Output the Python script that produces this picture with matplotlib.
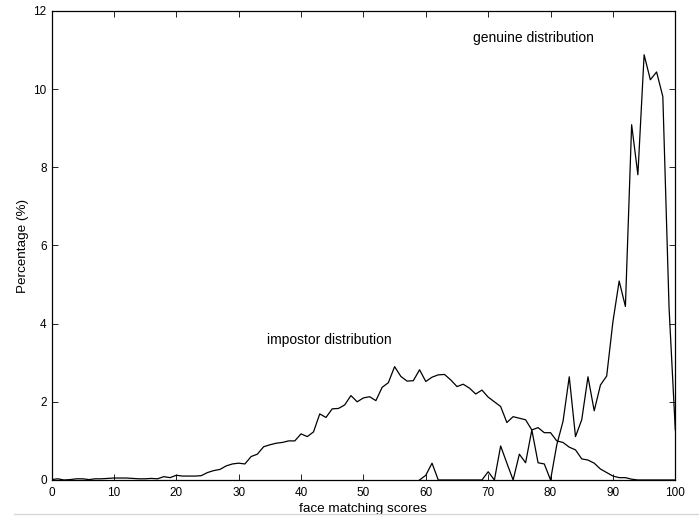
import matplotlib
matplotlib.use("Agg")
import matplotlib.pyplot as plt
from matplotlib.lines import Line2D

plt.rcParams["font.family"] = ["Liberation Sans", "DejaVu Sans"]

# impostor score histogram, one value per integer score 0..100 (percent)
impostor_scores = list(range(0, 101))
impostor_pct = [
    0.01, 0.03, 0.00, 0.01, 0.03, 0.03, 0.01, 0.03, 0.03, 0.04,
    0.05, 0.05, 0.05, 0.04, 0.03, 0.03, 0.04, 0.03, 0.085, 0.06,
    0.12, 0.10, 0.10, 0.10, 0.11, 0.19, 0.24, 0.27, 0.36, 0.41,
    0.43, 0.41, 0.60, 0.66, 0.85, 0.90, 0.94, 0.96, 1.00, 1.00,
    1.18, 1.11, 1.23, 1.69, 1.60, 1.82, 1.83, 1.92, 2.16, 2.00,
    2.10, 2.13, 2.03, 2.37, 2.49, 2.90, 2.65, 2.53, 2.54, 2.82,
    2.52, 2.63, 2.69, 2.70, 2.56, 2.39, 2.45, 2.35, 2.20, 2.30,
    2.12, 2.00, 1.88, 1.47, 1.62, 1.58, 1.54, 1.28, 1.34, 1.21,
    1.21, 1.00, 0.96, 0.84, 0.77, 0.54, 0.51, 0.43, 0.28, 0.19,
    0.10, 0.06, 0.06, 0.02, 0.00, 0.00, 0.00, 0.00, 0.00, 0.00,
    0.00,
]

# genuine score histogram (zero below 59)
genuine_scores = list(range(59, 101))
genuine_pct = [
    0.00,
    0.12, 0.43, 0.00, 0.00, 0.00, 0.00, 0.00, 0.00, 0.00, 0.00,
    0.21, 0.00, 0.87, 0.43, 0.00, 0.66, 0.44, 1.28, 0.44, 0.41,
    0.00, 0.90, 1.50, 2.64, 1.11, 1.54, 2.64, 1.77, 2.43, 2.66,
    4.05, 5.09, 4.44, 9.09, 7.81, 10.88, 10.24, 10.44, 9.81, 4.40,
    1.28,
]

x_ticks = [0, 10, 20, 30, 40, 50, 60, 70, 80, 90, 100]
y_ticks = [0, 2, 4, 6, 8, 10, 12]

fig = plt.figure(figsize=(6.99, 5.18), dpi=100)
ax = fig.add_axes([0.0737, 0.0734, 0.8924, 0.9054])

ax.plot(impostor_scores, impostor_pct, color="black", lw=0.9)
ax.plot(genuine_scores, genuine_pct, color="black", lw=0.9)

ax.set_xlim(0, 100)
ax.set_ylim(0, 12)
ax.set_xticks(x_ticks)
ax.set_yticks(y_ticks)
ax.tick_params(direction="in", length=4, width=0.6, top=True, right=True,
               labelsize=8.5, colors="black")
ax.tick_params(axis="x", pad=5)
ax.tick_params(axis="y", pad=3.5)
for spine in ax.spines.values():
    spine.set_linewidth(0.9)

ax.set_xlabel("face matching scores", fontsize=9.7, va="center")
ax.xaxis.set_label_coords(0.5, -0.062)
ax.set_ylabel("Percentage (%)", fontsize=9.7, va="center")
ax.yaxis.set_label_coords(-0.045, 0.5)

ax.text(67.6, 11.31, "genuine distribution", fontsize=10, va="center", ha="left")
ax.text(34.6, 3.58, "impostor distribution", fontsize=10, va="center", ha="left")

# faint scan line under the axis label
fig.add_artist(Line2D([0.02, 1.0], [0.008, 0.008], color="#d8d8d8", lw=1.0,
                      transform=fig.transFigure))

fig.savefig("out.png", dpi=100)
